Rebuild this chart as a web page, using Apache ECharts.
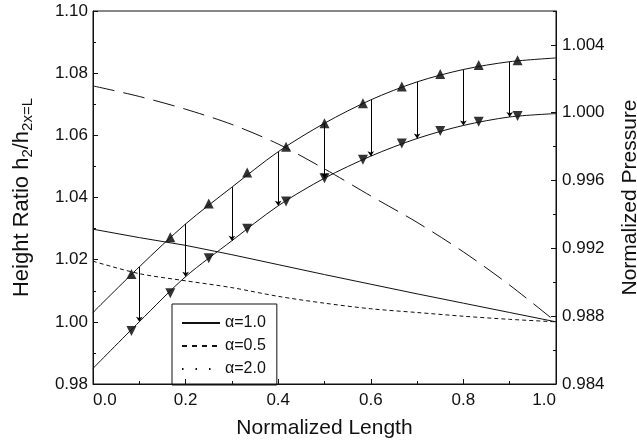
<!DOCTYPE html>
<html><head><meta charset="utf-8">
<script src="https://cdn.jsdelivr.net/npm/echarts@6/dist/echarts.min.js"></script>
<style>html,body{margin:0;padding:0;background:#fff}#c{width:637px;height:444px}</style>
</head><body><div id="c"></div>
<script>
// ---- data ----
const xVals = [0, 0.1, 0.2, 0.3, 0.4, 0.5, 0.6, 0.7, 0.8, 0.9, 1.0];
const alpha10 = [1.0298, 1.0271, 1.0246, 1.0216, 1.0184, 1.0152, 1.0121, 1.0090, 1.0060, 1.0030, 1.0000];
const alpha05 = [1.0759, 1.0725, 1.0684, 1.0635, 1.0572, 1.0492, 1.0405, 1.0320, 1.0225, 1.0118, 1.0000];
const alpha20 = [1.0195, 1.0155, 1.0132, 1.0110, 1.0082, 1.0060, 1.0042, 1.0030, 1.0018, 1.0008, 1.0000];
const pressUpper = [0.98822, 0.99091, 0.99344, 0.99561, 0.99770, 0.99938, 1.00076, 1.00182, 1.00255, 1.00301, 1.00323];
const pressLower = [0.98492, 0.98767, 0.99033, 0.99245, 0.99451, 0.99614, 0.99744, 0.99848, 0.99925, 0.99975, 0.99995];
const triX = [0.083, 0.167, 0.25, 0.333, 0.417, 0.5, 0.583, 0.667, 0.75, 0.833, 0.917];
const triUp = [0.99049, 0.99265, 0.99465, 0.99647, 0.99799, 0.99938, 1.00056, 1.00154, 1.00228, 1.00281, 1.00310];
const triDown = [0.98713, 0.98935, 0.99141, 0.99315, 0.99476, 0.99614, 0.99722, 0.99819, 0.99892, 0.99947, 0.99980];
const arrowX = [0.1, 0.2, 0.3, 0.4, 0.5, 0.6, 0.7, 0.8, 0.9];
const xRange = [0, 1.0, 0.2];
const leftRange = [0.98, 1.10, 0.02];
const rightRange = [0.984, 1.006, 0.004];
const legendNames = ['\u03b1=1.0', '\u03b1=0.5', '\u03b1=2.0'];

// ---- chart ----
const FONT = 'Liberation Sans, Arial, Helvetica, sans-serif';
const INK = '#111';
const pairs = (xs, ys) => xs.map((x, i) => [x, ys[i]]);
const arrowData = arrowX.map(x => {
  const i = xVals.indexOf(x);
  return { coords: [[x, pressUpper[i]], [x, pressLower[i]]] };
});

const chart = echarts.init(document.getElementById('c'), null, { renderer: 'canvas' });
const axisCommon = {
  axisLine: { show: true, lineStyle: { color: INK, width: 1 } },
  axisTick: { show: true, inside: true, length: 5, lineStyle: { color: INK } },
  minorTick: { show: true, splitNumber: 2, length: 3, lineStyle: { color: INK } },
  splitLine: { show: false },
  minorSplitLine: { show: false },
  axisLabel: { color: INK, fontFamily: FONT, fontSize: 17 },
  nameTextStyle: { color: INK, fontFamily: FONT, fontSize: 20 }
};

chart.setOption({
  animation: false,
  backgroundColor: '#fff',
  grid: { left: 93, right: 81, top: 11, bottom: 60, show: true, borderColor: INK, borderWidth: 1,
    containLabel: false, outerBoundsMode: 'none' },
  legend: {
    orient: 'vertical', left: 172, top: 304,
    padding: [11, 11, 8, 9],
    borderColor: INK, borderWidth: 1,
    itemWidth: 38, itemHeight: 14, itemGap: 7,
    itemStyle: { opacity: 0 },
    textStyle: { color: INK, fontFamily: FONT, fontSize: 16 },
    data: [
      { name: legendNames[0] },
      { name: legendNames[1], lineStyle: { type: [5, 5] } },
      { name: legendNames[2], lineStyle: { type: [1.5, 12] } }
    ]
  },
  xAxis: Object.assign({}, axisCommon, {
    type: 'value', min: xRange[0], max: xRange[1], interval: xRange[2],
    name: 'Normalized Length', nameLocation: 'middle', nameGap: 34,
    nameTextStyle: { color: INK, fontFamily: FONT, fontSize: 21 },
    axisLabel: Object.assign({}, axisCommon.axisLabel, { margin: 8, formatter: v => v.toFixed(1), alignMinLabel: 'left', alignMaxLabel: 'right' })
  }),
  yAxis: [
    Object.assign({}, axisCommon, {
      type: 'value', position: 'left', min: leftRange[0], max: leftRange[1], interval: leftRange[2],
      name: 'Height Ratio h{sub|2}/h{sub|2x=L}', nameLocation: 'middle', nameGap: 58, nameRotate: 90,
      nameTextStyle: { color: INK, fontFamily: FONT, fontSize: 22,
        rich: { sub: { fontFamily: FONT, fontSize: 15, color: INK, padding: [11, 0, 0, 0] } } },
      axisLabel: Object.assign({}, axisCommon.axisLabel, { margin: 5, formatter: v => v.toFixed(2) })
    }),
    Object.assign({}, axisCommon, {
      type: 'value', position: 'right', min: rightRange[0], max: rightRange[1], interval: rightRange[2],
      minorTick: { show: false },
      name: 'Normalized Pressure', nameLocation: 'middle', nameGap: 64, nameRotate: 90,
      nameTextStyle: { color: INK, fontFamily: FONT, fontSize: 21 },
      axisLabel: Object.assign({}, axisCommon.axisLabel, { margin: 6, showMaxLabel: false, formatter: v => v.toFixed(3) })
    }),
    {
      type: 'value', position: 'right', min: rightRange[0], max: rightRange[1], interval: rightRange[2] / 2,
      axisLine: { show: false }, axisLabel: { show: false }, splitLine: { show: false },
      axisTick: { show: true, inside: true, length: 3, lineStyle: { color: INK } }
    }
  ],
  series: [
    { name: legendNames[0], type: 'line', yAxisIndex: 0, data: pairs(xVals, alpha10), symbol: 'none',
      lineStyle: { color: INK, width: 1 }, itemStyle: { color: INK } },
    { name: legendNames[1], type: 'line', yAxisIndex: 0, data: pairs(xVals, alpha05), symbol: 'none', smooth: 0.3,
      lineStyle: { color: INK, width: 1, type: [22, 9] }, itemStyle: { color: INK } },
    { name: legendNames[2], type: 'line', yAxisIndex: 0, data: pairs(xVals, alpha20), symbol: 'none', smooth: 0.3,
      lineStyle: { color: INK, width: 1, type: [4, 3] }, itemStyle: { color: INK } },
    { name: 'pU', type: 'line', yAxisIndex: 1, data: pairs(xVals, pressUpper), symbol: 'none', smooth: 0.3,
      lineStyle: { color: INK, width: 1 } },
    { name: 'pL', type: 'line', yAxisIndex: 1, data: pairs(xVals, pressLower), symbol: 'none', smooth: 0.3,
      lineStyle: { color: INK, width: 1 } },
    { name: 'tU', type: 'scatter', yAxisIndex: 1, data: pairs(triX, triUp), symbol: 'triangle', symbolSize: 10,
      itemStyle: { color: '#000' } },
    { name: 'tD', type: 'scatter', yAxisIndex: 1, data: pairs(triX, triDown), symbol: 'triangle', symbolRotate: 180, symbolSize: 10,
      itemStyle: { color: '#000' } },
    { name: 'arrows', type: 'lines', coordinateSystem: 'cartesian2d', xAxisIndex: 0, yAxisIndex: 1,
      data: arrowData, symbol: ['none', 'arrow'], symbolSize: 5,
      lineStyle: { color: '#000', width: 1, opacity: 1 } }
  ]
});
</script>
</body></html>
